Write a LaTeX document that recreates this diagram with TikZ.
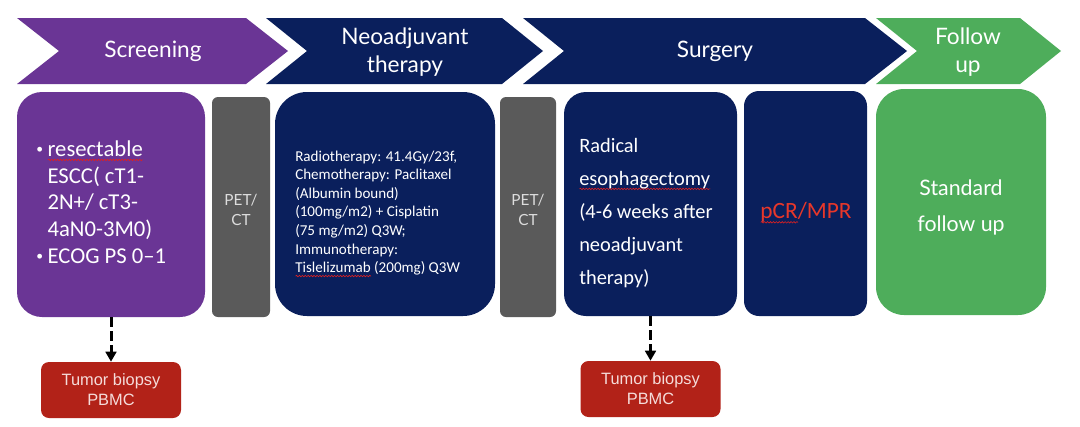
\documentclass[tikz,border=0pt]{standalone}
\usepackage{fontspec}
\setmainfont{Carlito}
\newfontfamily\lato{Lato}
\newfontfamily\arialf{Liberation Sans}
\usetikzlibrary{arrows.meta,decorations.pathmorphing}
\definecolor{cpurple}{HTML}{6A3595}
\definecolor{cnavy}{HTML}{0A1F5C}
\definecolor{cgray}{HTML}{5A5A5A}
\definecolor{cgreen}{HTML}{4EAD5B}
\definecolor{cred}{HTML}{B22218}
\definecolor{ctxtred}{HTML}{E8372A}
\definecolor{wavered}{HTML}{E02020}
\definecolor{petgray}{HTML}{DDDDDD}
\definecolor{tbtext}{HTML}{F5DCDA}
\newlength\wavelen
\newcommand\rwave[1]{\settowidth\wavelen{#1}\rlap{\begin{tikzpicture}[baseline=0pt,x=1pt,y=1pt]\draw[wavered,line width=0.45pt,decorate,decoration={snake,amplitude=0.55pt,segment length=2.2pt}] (0pt,-2.6pt) -- (\wavelen,-2.6pt);\end{tikzpicture}}#1}
\newcommand\smbul{\makebox[0.5em][l]{\raisebox{0.12em}{\scalebox{0.6}{•}}}}
\newcommand\nobul{\makebox[0.5em][l]{}}
\tikzset{
  chevlabel/.style={text=white, font={\lato\fontsize{17}{21}\selectfont}, align=center, inner sep=0},
  rbox/.style={inner sep=0, draw=none},
  petlabel/.style={text=petgray, font={\lato\fontsize{11.5}{15}\selectfont}, align=center, inner sep=0},
  tbbox/.style={rbox, fill=cred, rounded corners=6pt, minimum width=105pt, minimum height=42pt,
     text=tbtext, font={\arialf\fontsize{12.3}{15}\selectfont}, align=center},
  dasharrow/.style={line width=2.25pt, dash pattern=on 7.5pt off 3pt, -{Triangle[length=7.5pt,width=8pt]}}
}
\begin{document}
\begin{tikzpicture}[x=0.75pt,y=-0.75pt]
\useasboundingbox (0,0) rectangle (1080,426);
% chevrons
\fill[cpurple] (17,18) -- (246,18) -- (288,51) -- (246,84) -- (17,84) -- (59,51) -- cycle;
\fill[cnavy] (266,18) -- (502,18) -- (543,51) -- (502,84) -- (266,84) -- (307,51) -- cycle;
\fill[cnavy] (523,18) -- (865,18) -- (907,51) -- (865,84) -- (523,84) -- (564,51) -- cycle;
\fill[cgreen] (876,18) -- (1020,18) -- (1061,51) -- (1020,84) -- (876,84) -- (917,51) -- cycle;
\node[chevlabel] (lscr) at (153,51) {Screening};
\node[chevlabel] (lneo) at (405,52) {Neoadjuvant\\therapy};
\node[chevlabel] (lsur) at (715,51) {Surgery};
\node[chevlabel] (lfol) at (968,52) {Follow\\up};
% boxes
\node[rbox, fill=cpurple, rounded corners=18.75pt, minimum width=141pt, minimum height=168.75pt] (scr) at (111,204.5) {};
\node[rbox, fill=cgray, rounded corners=4.5pt, minimum width=43.5pt, minimum height=165pt] (pet1) at (241,207) {};
\node[rbox, fill=cnavy, rounded corners=24pt, minimum width=165pt, minimum height=168pt] (neo) at (385,204) {};
\node[rbox, fill=cgray, rounded corners=4.5pt, minimum width=42pt, minimum height=165pt] (pet2) at (528,207) {};
\node[rbox, fill=cnavy, rounded corners=16.5pt, minimum width=129.75pt, minimum height=168pt] (sur) at (650.5,204) {};
\node[rbox, fill=cnavy, rounded corners=11.25pt, minimum width=92.25pt, minimum height=168.75pt] (pcr) at (805.5,203.5) {};
\node[rbox, fill=cgreen, rounded corners=21pt, minimum width=127.5pt, minimum height=169.5pt] (fol) at (961,202) {};
% texts
\node[anchor=west, inner sep=0, text=white, align=left, font={\fontsize{17}{20}\selectfont}] (scrt) at (36,202)
  {\smbul\rwave{resectable}\\\nobul ESCC( cT1-\\\nobul 2N+/ cT3-\\\nobul 4aN0-3M0)\\\smbul ECOG PS 0–1};
\node[petlabel] (pet1t) at (241,210) {PET/\\CT};
\node[petlabel] (pet2t) at (528,210) {PET/\\CT};
\node[anchor=west, inner sep=0, text=white, align=left, font={\fontsize{11.3}{13.9}\selectfont}] (neot) at (295,214)
  {Radiotherapy: 41.4Gy/23f,\\Chemotherapy: Paclitaxel\\(Albumin bound)\\(100mg/m2) + Cisplatin\\(75 mg/m2) Q3W;\\Immunotherapy:\\\rwave{Tislelizumab} (200mg) Q3W};
\node[anchor=west, inner sep=0, text=white, align=left, font={\fontsize{15.3}{24.75}\selectfont}] (surt) at (579,213)
  {Radical\\\rwave{esophagectomy}\\(4-6 weeks after\\neoadjuvant\\therapy)};
\node[inner sep=0, text=ctxtred, font={\fontsize{17.5}{21}\selectfont}] (pcrt) at (806,213) {\rwave{pCR}/MPR};
\node[inner sep=0, text=white, align=center, font={\lato\fontsize{16}{27}\selectfont}] (folt) at (961,207) {Standard\\follow up};
% bottom
\node[tbbox] (tb1) at (111,390) {Tumor biopsy\\PBMC};
\node[tbbox] (tb2) at (650.5,389) {Tumor biopsy\\PBMC};
\draw[dasharrow] (scr.south) -- (tb1.north);
\draw[dasharrow] (sur.south) -- (tb2.north);
\end{tikzpicture}
\end{document}
